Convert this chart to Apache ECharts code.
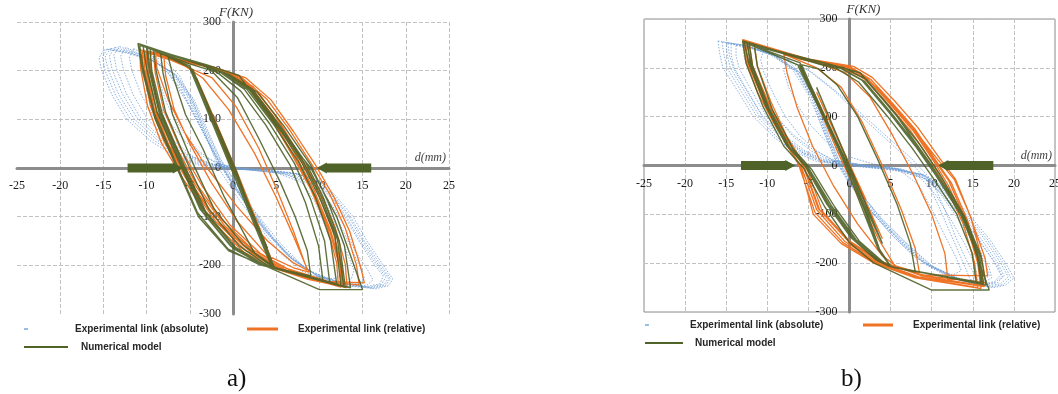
<!DOCTYPE html>
<html>
<head>
<meta charset="utf-8">
<script src="https://cdn.jsdelivr.net/npm/echarts@6/dist/echarts.min.js"></script>
<style>
  html, body { margin: 0; padding: 0; background: #fff; }
  #chart { width: 1058px; height: 394px; }
</style>
</head>
<body>
<div id="chart"></div>
<script>
// Axis ticks: displacement d (mm) and force F (kN)
const dTicks = [-25, -20, -15, -10, -5, 0, 5, 10, 15, 20, 25];
const fTicks = [-300, -200, -100, 0, 100, 200, 300];
const seriesNames = ['Experimental link (absolute)', 'Experimental link (relative)', 'Numerical model'];
const captions = ['a)', 'b)'];

// ---- Panel a: hysteresis paths [d, F]; null separates recorded loops ----
const absA = [
  [-15, 242], [-15.5, 226], [-15.2, 200], [-14, 150], [-12.3, 100], [-9.5, 55], [-6.5, 22], [-4, 6], [0, -2], [4, -6], [8, -14], [10.5, -30], [12.5, -70], [13.9, -100], [15.5, -150], [17.4, -200], [18.5, -228], [18, -242], [16.5, -248], [13, -242], [10, -225], [7, -190], [4.5, -140], [2.5, -90], [0.5, -35], [-1.5, 20], [-3, 80], [-4.5, 140], [-6.5, 190], [-9, 218], [-12, 235], [-14.5, 244], [-15, 242],
  null,
  [-14.6, 244], [-15.1, 228], [-14.8, 200], [-13.6, 150], [-11.9, 101], [-9.1, 56], [-6.2, 23], [-3.8, 7], [0, -1], [4, -5], [7.8, -13], [10.2, -29], [12.2, -69], [13.6, -100], [15.2, -150], [17.1, -199], [18.2, -227], [17.7, -241], [16.2, -247], [12.8, -240], [9.8, -222], [6.8, -187], [4.3, -137], [2.2, -87], [0.3, -32], [-1.6, 22], [-3.2, 82], [-4.7, 142], [-6.7, 192], [-9.1, 219], [-12.1, 237], [-14.6, 244],
  null,
  [-14.2, 246], [-14.8, 228], [-14.4, 200], [-13.2, 150], [-11.5, 102], [-8.8, 58], [-6, 25], [-3.5, 8], [0, 0], [4, -5], [7.5, -12], [10, -28], [12, -68], [13.4, -100], [15, -150], [16.8, -198], [18, -226], [17.5, -240], [16, -246], [12.6, -238], [9.6, -220], [6.6, -184], [4, -134], [2, -84], [0, -30], [-1.8, 24], [-3.4, 84], [-4.9, 144], [-6.8, 194], [-9.3, 221], [-12.2, 238], [-14.2, 246],
  null,
  [-13.7, 248], [-14.3, 230], [-14, 203], [-12.8, 152], [-11.1, 103], [-8.5, 59], [-5.7, 26], [-3.2, 9], [0, 1], [3.7, -4], [7.2, -11], [9.7, -27], [11.7, -66], [13.1, -99], [14.7, -149], [16.5, -196], [17.7, -224], [17.2, -239], [15.7, -245], [12.4, -236], [9.4, -217], [6.4, -181], [3.8, -131], [1.7, -80], [-0.2, -27], [-2, 26], [-3.6, 86], [-5.1, 146], [-6.9, 195], [-9.4, 222], [-12.1, 240], [-13.7, 248],
  null,
  [-13.2, 250], [-13.8, 232], [-13.5, 205], [-12.4, 155], [-10.8, 105], [-8.2, 60], [-5.5, 28], [-3, 10], [0, 2], [3.5, -4], [7, -10], [9.5, -26], [11.5, -64], [12.9, -98], [14.5, -148], [16.2, -195], [17.4, -222], [17, -238], [15.4, -244], [12.2, -234], [9.2, -214], [6.2, -178], [3.6, -128], [1.5, -76], [-0.4, -24], [-2.2, 28], [-3.8, 88], [-5.3, 148], [-7.1, 196], [-9.6, 224], [-12, 242], [-13.2, 250],
  null,
  [-12.4, 248], [-13, 230], [-12.7, 203], [-11.6, 152], [-10, 103], [-7.6, 58], [-5, 25], [-2.6, 8], [0.5, -1], [4.2, -6], [7.8, -18], [9.9, -40], [11.6, -80], [12.9, -120], [14.1, -170], [15.6, -210], [16.2, -230], [15.5, -241], [14, -243], [11.4, -232], [8.6, -208], [5.8, -168], [3.3, -118], [1.1, -64], [-0.8, -12], [-2.6, 44], [-4.3, 104], [-6, 162], [-8, 205], [-10.3, 230], [-12.4, 248],
  null,
  [-11.5, 245], [-12, 228], [-11.7, 200], [-10.6, 150], [-9, 100], [-6.8, 55], [-4.5, 22], [-2, 6], [1, -3], [5, -9], [8.5, -25], [10.5, -62], [12, -100], [13.3, -150], [14.6, -200], [15.2, -225], [14.6, -237], [13, -240], [10.5, -230], [8, -200], [5.5, -155], [3, -100], [0.5, -45], [-1.5, 10], [-3.5, 75], [-5.5, 140], [-7.5, 195], [-9.5, 228], [-11.5, 245],
  null,
  [-10, 240], [-10.5, 222], [-10.1, 195], [-9, 145], [-7.5, 98], [-5.5, 54], [-3.3, 22], [-1, 6], [2, -4], [6, -12], [9, -34], [10.8, -75], [12, -120], [13.1, -170], [14, -210], [13.7, -228], [12.2, -233], [9.8, -222], [7.3, -192], [4.8, -148], [2.4, -95], [0.1, -40], [-1.9, 18], [-3.8, 85], [-5.7, 150], [-7.6, 202], [-10, 240],
  null,
  [-8.5, 232], [-9, 210], [-8.6, 180], [-7.6, 130], [-6, 80], [-4, 35], [-2, 10], [1, -2], [5, -10], [8, -30], [9.5, -70], [10.7, -120], [11.8, -170], [12.6, -210], [12.2, -226], [10.5, -228], [8, -212], [5.5, -175], [3, -120], [0.5, -60], [-1.5, -5], [-3, 60], [-4.5, 130], [-6.2, 190], [-8.5, 232]
];
const relA = [
  [0, 0], [-1.5, 60], [1.5, -55], [-3, 125], [3, -120], [-4.2, 185], [-2, 95], [0.5, -10], [3, -120], [4.5, -190],
  [3, -130], [0.5, -20], [-2, 90], [-4, 175], [-5, 205], [-8, 228],
  [-7.8, 190], [-6.8, 120], [-5, 50], [-2.5, -30], [0.5, -110], [4, -180], [7, -205], [8.8, -214], [8.5, -204], [7, -140], [5, -60], [2.5, 30], [-0.5, 120], [-3.5, 185], [-6, 215], [-10.5, 240],
  [-10.4, 205], [-9.6, 130], [-8, 55], [-5.5, -20], [-2, -110], [1.5, -170], [5, -205], [9, -228], [12.5, -245],
  [12.4, -205], [11.2, -130], [9.3, -50], [7, 25], [4.5, 105], [2, 165], [-1, 200], [-4, 215], [-10.3, 238],
  [-10.2, 200], [-9.2, 120], [-7.5, 45], [-4.8, -35], [-1.5, -115], [2, -172], [5.5, -207], [9.5, -230], [12.8, -244],
  [12.6, -200], [11.5, -125], [9.6, -40], [7.4, 30], [4.8, 110], [2.3, 168], [-0.7, 198], [-4.2, 214], [-10, 236],
  [-9.8, 195], [-8.8, 115], [-7, 40], [-4.2, -40], [-1, -118], [2.6, -175], [6, -209], [10, -232], [15.2, -236],
  [14.8, -205], [13.5, -130], [11.7, -60], [9.6, 5], [7, 75], [4.4, 140], [1.5, 185], [-2, 206], [-6, 220], [-9, 238],
  [-8.8, 205], [-7.5, 140], [-5.5, 70], [-3, 0], [0.5, -80], [4, -150], [7, -195], [8.6, -210], [8.3, -195],
  [7, -130], [5.2, -50], [3, 40], [0.4, 125], [-2.4, 185], [-5, 205], [-9.6, 240],
  [-9.5, 200], [-8.6, 125], [-6.8, 50], [-4.4, -28], [-1.2, -108], [2.3, -168], [5.8, -204], [9.8, -226], [12.2, -240],
  [12, -195], [10.9, -122], [9, -44], [6.8, 28], [4.2, 108], [1.7, 166], [-1.3, 199], [-4.6, 216], [-10.8, 243],
  [-10.7, 205], [-9.9, 128], [-8.3, 52], [-5.8, -22], [-2.3, -112], [1.2, -172], [4.7, -206], [8.7, -229], [13.2, -246],
  [13, -198], [11.8, -120], [9.9, -42], [7.7, 26], [5.1, 104], [2.6, 162], [-0.4, 197], [-3.8, 213], [-9.2, 234],
  [-9, 195], [-8, 118], [-6.2, 44], [-3.6, -36], [-0.4, -116], [3.2, -176], [6.6, -210], [10.6, -234], [14.6, -240],
  [14.3, -200], [13, -124], [11.2, -54], [9.1, 8], [6.5, 80], [3.9, 142], [1, 186], [-2.5, 207], [-5.5, 216], [-10.1, 238],
  [-10, 198], [-9.1, 122], [-7.4, 47], [-4.9, -30], [-1.6, -112], [1.9, -170], [5.3, -206], [9.3, -229], [12.6, -243],
  [12.5, -202], [11.3, -128], [9.4, -46], [7.2, 28], [4.6, 108], [2.1, 166], [-0.9, 199], [-4.1, 215]
];
const numA = [
  [0, 0], [-2, 84], [2, -84], [-4, 165], [4, -165],
  [-5, 205], [-2.5, 100], [0, 0], [2.5, -105], [4.8, -205],
  [2.5, -102], [0, 2], [-2.5, 104], [-5, 206],
  [-7.5, 228], [-6.8, 180], [-5.5, 110], [-3.5, 40], [-1, -60], [2.5, -175], [5, -206], [9, -222],
  [8.6, -170], [7.2, -100], [5.5, -30], [3, 60], [0.5, 145], [-2.5, 200], [-5, 214], [-10, 248],
  [-9.7, 200], [-8.5, 110], [-6, 10], [-3.5, -90], [0, -165], [3.5, -200], [5, -207], [12.5, -242],
  [11.8, -140], [10, -60], [8, 10], [5, 90], [2, 160], [-1, 195], [-2.7, 207], [-10.4, 250],
  [-10, 205], [-8.8, 115], [-6.3, 15], [-3.8, -85], [-0.3, -160], [3.3, -198], [4.9, -205], [12, -238],
  [11.3, -150], [9.6, -62], [7.6, 12], [4.6, 92], [1.6, 162], [-1.3, 196], [-2.9, 208], [-9.6, 246],
  [-9.4, 200], [-8.2, 112], [-5.8, 12], [-3.2, -88], [0.3, -163], [3.8, -201], [5.2, -208], [13, -245],
  [12.3, -150], [10.4, -58], [8.4, 12], [5.4, 88], [2.4, 158], [-0.7, 193], [-2.6, 206], [-9.2, 244],
  [-8.9, 200], [-7.8, 115], [-5.4, 15], [-2.8, -85], [0.7, -160], [4, -200], [5.3, -208], [11.2, -236],
  [10.6, -150], [9, -65], [7.1, 10], [4.2, 92], [1.3, 162], [-1.5, 197], [-3.1, 209], [-10.8, 252],
  [-10.4, 205], [-9.1, 112], [-6.6, 10], [-4.1, -92], [-0.6, -166], [3.1, -199], [4.8, -206], [13.6, -246],
  [12.9, -160], [11, -70], [9, 6], [5.9, 86], [2.8, 156], [-0.4, 192], [-2.4, 205], [-8.4, 238],
  [-8.1, 195], [-7, 110], [-4.7, 12], [-2.2, -84], [1.2, -158], [4.4, -201], [5.6, -209], [10.4, -230],
  [9.9, -160], [8.4, -72], [6.6, 6], [3.8, 88], [0.9, 158], [-1.8, 196], [-3.4, 210], [-9.9, 247],
  [-9.6, 202], [-8.4, 113], [-5.9, 13], [-3.4, -87], [0.1, -162], [3.6, -199], [5.1, -207], [12.8, -243],
  [12.1, -148], [10.2, -59], [8.2, 11], [5.2, 89], [2.2, 159], [-0.9, 194], [-2.8, 207], [-11, 256],
  [-10.5, 200], [-9, 100], [-6.5, 0], [-4, -100], [-0.5, -170], [4, -203], [10, -250], [15, -250],
  [14, -200], [12, -100], [9, 0], [4.4, 100], [0.7, 190], [-3, 212], [-10, 248],
  [-5, 210], [0, 3], [4.7, -205], [0, -3], [-5, 205], [-0.3, 2], [4.5, -204], [0.3, -2], [-4.7, 204]
];

// ---- Panel b: hysteresis paths [d, F] ----
const absB = [
  [-16, 255], [-15.8, 230], [-15.4, 200], [-13.5, 150], [-11.7, 100], [-9, 55], [-6.4, 26], [-4, 8], [0, 0], [5, -8], [9, -18], [12, -50], [14.5, -100], [17, -150], [19, -200], [20, -230], [19, -245], [17.5, -250], [14, -238], [10, -205], [7, -160], [4, -110], [1, -50], [-1, 0], [-2.5, 60], [-4, 130], [-6, 190], [-9, 225], [-12.5, 245], [-16, 255],
  null,
  [-15.5, 253], [-15.3, 229], [-14.9, 200], [-13.1, 150], [-11.3, 101], [-8.7, 56], [-6.1, 27], [-3.7, 9], [0.3, 0], [5.2, -8], [9, -19], [11.8, -50], [14.2, -100], [16.7, -150], [18.7, -200], [19.6, -229], [18.7, -244], [17.1, -249], [13.7, -236], [9.8, -204], [6.8, -158], [3.8, -108], [0.8, -48], [-1.1, 2], [-2.6, 62], [-4.1, 132], [-6.1, 191], [-9.1, 226], [-12.3, 245], [-15.5, 253],
  null,
  [-15, 252], [-14.9, 228], [-14.5, 200], [-12.7, 150], [-11, 102], [-8.4, 58], [-5.9, 28], [-3.5, 10], [0.5, 0], [5.5, -8], [9, -20], [11.6, -50], [14, -100], [16.4, -150], [18.4, -200], [19.3, -228], [18.4, -242], [16.8, -247], [13.4, -235], [9.5, -202], [6.5, -156], [3.5, -106], [0.6, -46], [-1.3, 4], [-2.8, 64], [-4.3, 134], [-6.3, 192], [-9.2, 226], [-12.2, 244], [-15, 252],
  null,
  [-14.8, 250], [-14.6, 225], [-14.1, 198], [-12.4, 150], [-10.6, 100], [-8, 55], [-5.5, 25], [-3, 8], [1, -2], [5.5, -10], [9, -25], [11.5, -60], [13.8, -110], [16, -160], [18, -205], [18.6, -228], [17.6, -240], [16, -244], [14.4, -200], [13, -150], [11.6, -90], [10, -30], [7.5, 15], [4.5, 60], [1.5, 105], [-1.5, 150], [-4.5, 190], [-8, 220], [-11.5, 240], [-14.8, 250],
  null,
  [-14.4, 249], [-14.4, 227], [-14, 199], [-12.3, 150], [-10.6, 102], [-8.1, 59], [-5.6, 29], [-3.2, 11], [0.8, 1], [5.8, -7], [9, -20], [11.4, -51], [13.7, -100], [16, -150], [18, -199], [18.8, -226], [18, -240], [16.4, -245], [13.1, -233], [9.2, -200], [6.2, -154], [3.2, -104], [0.4, -44], [-1.4, 6], [-2.9, 66], [-4.4, 136], [-6.4, 192], [-9.2, 225], [-12, 242], [-14.4, 249],
  null,
  [-13.8, 246], [-13.8, 225], [-13.4, 198], [-11.8, 150], [-10.2, 103], [-7.8, 60], [-5.4, 30], [-3, 12], [1, 2], [6, -6], [9, -20], [11.2, -52], [13.4, -100], [15.7, -150], [17.6, -198], [18.4, -224], [17.6, -238], [16, -243], [12.8, -232], [9, -198], [6, -152], [3, -102], [0.2, -42], [-1.6, 8], [-3.1, 68], [-4.6, 138], [-6.5, 193], [-9.2, 224], [-11.8, 240], [-13.8, 246],
  null,
  [-13, 244], [-12.8, 222], [-12.3, 196], [-10.8, 150], [-9.2, 104], [-6.8, 62], [-4.4, 32], [-2, 12], [2, 0], [6.5, -9], [9.6, -30], [11.8, -70], [13.8, -118], [15.6, -165], [17, -210], [17.3, -230], [16.3, -240], [14.8, -238], [13.6, -190], [12.3, -140], [10.9, -85], [9.3, -28], [6.8, 18], [3.8, 64], [0.8, 110], [-2, 155], [-5, 195], [-8.5, 224], [-13, 244],
  null,
  [-12.2, 242], [-12.4, 222], [-12, 195], [-10.6, 148], [-9, 102], [-6.9, 60], [-4.7, 30], [-2.5, 12], [1.5, 1], [6, -7], [8.8, -22], [11, -56], [13, -105], [15, -155], [16.6, -203], [17, -226], [16.1, -236], [14.3, -236], [11.3, -220], [8, -188], [5.3, -145], [2.7, -95], [0, -38], [-1.8, 14], [-3.3, 76], [-4.9, 142], [-6.9, 196], [-9.5, 226], [-12.2, 242],
  null,
  [-10.5, 235], [-10.8, 215], [-10.4, 190], [-9.2, 145], [-7.8, 100], [-6, 60], [-4, 30], [-2, 10], [2, 0], [6, -8], [8.6, -25], [10.5, -60], [12.3, -110], [14, -160], [15.3, -205], [15.5, -228], [14.5, -236], [12, -228], [9, -200], [6.4, -160], [3.8, -110], [1.4, -55], [-0.5, -5], [-2, 50], [-3.5, 115], [-5.2, 175], [-7.5, 215], [-10.5, 235],
  null,
  [-7.5, 218], [-8, 195], [-7.4, 160], [-6.2, 120], [-4.6, 80], [-2.6, 45], [-0.5, 20], [2.5, 5], [6, -8], [8.4, -40], [10, -90], [11.5, -140], [13, -190], [13.6, -215], [12.6, -224], [10, -210], [7.5, -180], [5, -140], [2.5, -90], [0.5, -40], [-1.2, 20], [-2.8, 90], [-4.3, 150], [-5.8, 195], [-7.5, 218]
];
const relB = [
  [0, 0], [-2, 75], [2, -70], [-4, 150], [4, -150], [-6, 205], [-4, 130], [-1.5, 30], [1, -60], [3.5, -150], [5.5, -205], [8.5, -220],
  [8, -170], [6.3, -90], [4, 0], [1.5, 90], [-1, 160], [-4, 200], [-8, 228],
  [-7.6, 190], [-6.4, 120], [-4.5, 40], [-2, -40], [1, -120], [4, -185], [6, -210], [12, -238],
  [11.6, -180], [10, -100], [7.8, -20], [5.3, 60], [2.5, 140], [-0.5, 190], [-5, 216], [-13, 258],
  [-12.6, 215], [-11.2, 150], [-9, 80], [-6, 0], [-4.4, -100], [-1, -160], [3, -200], [8, -230], [16, -252],
  [15.6, -200], [14.2, -120], [12, -40], [10.2, 10], [7.8, 70], [5, 125], [2.3, 175], [0, 200], [-5, 218], [-12.7, 256],
  [-12.3, 210], [-10.5, 140], [-8.6, 70], [-5.8, -5], [-4, -90], [-0.6, -155], [3.4, -198], [8.4, -228], [16.4, -248],
  [15.8, -196], [14.4, -114], [12.4, -36], [10.6, 8], [8, 74], [5.2, 128], [2.6, 176], [0.2, 201], [-4.8, 216], [-12.2, 252],
  [-11.8, 205], [-10, 135], [-8, 65], [-5.4, -8], [-3.6, -92], [0, -158], [4, -201], [9, -224], [16.8, -226],
  [16.5, -190], [14.6, -100], [12.8, -30], [10.6, 15], [8.5, 60], [6.5, 100], [4.5, 140], [2.3, 175], [-1, 200], [-6, 218], [-12.8, 257],
  [-12.4, 212], [-10.8, 145], [-8.8, 75], [-6.2, 2], [-4.2, -96], [-0.8, -158], [3.2, -199], [8.2, -229], [15.6, -250],
  [15.2, -198], [13.8, -118], [11.6, -38], [9.8, 12], [7.4, 72], [4.6, 127], [1.9, 176], [-0.4, 200], [-5.4, 219], [-12.5, 255],
  [-12, 208], [-10.2, 138], [-8.2, 68], [-5.6, -2], [-3.8, -88], [-0.2, -152], [3.8, -196], [8.8, -226], [16.2, -246],
  [15.6, -194], [14.1, -110], [12.1, -32], [10.3, 12], [7.7, 76], [4.9, 130], [2.2, 178], [-0.2, 202], [-5.2, 218], [-11.6, 250],
  [-11.2, 204], [-9.6, 132], [-7.7, 62], [-5.1, -10], [-3.3, -94], [0.3, -160], [4.3, -202], [9.3, -226], [16.6, -240],
  [16.1, -192], [14.8, -108], [12.9, -28], [11, 14], [8.3, 78], [5.5, 132], [2.8, 180], [0.5, 203], [-4.5, 217]
];
const numB = [
  [0, 0], [-2, 80], [2, -80], [-4, 160], [4, -160],
  [-6, 202], [-3, 100], [-0.3, 5], [2, -90], [3.7, -174], [5, -207], [8, -218],
  [7.4, -160], [5.8, -80], [3.5, 10], [1, 100], [-1.5, 165], [-3.8, 198], [-6, 207],
  [-6.2, 202], [-3.2, 100], [-0.5, 8], [1.8, -90], [3.6, -172], [5, -206],
  [3.6, -170], [1.8, -88], [-0.4, 8], [-3, 100], [-6, 204], [-12.5, 250],
  [-12, 210], [-10, 120], [-7.5, 40], [-5.2, -3], [-2.5, -80], [0.5, -150], [3.5, -195], [5, -207], [16, -240],
  [15.5, -180], [13.5, -100], [10.5, -20], [8, 40], [5, 105], [1.5, 175], [-1.2, 200], [-3.3, 207], [-12.2, 248],
  [-11.8, 205], [-9.8, 118], [-7.3, 38], [-5, -5], [-2.2, -82], [0.8, -152], [3.8, -197], [5.2, -208], [16.3, -242],
  [15.8, -182], [13.8, -102], [10.8, -22], [8.3, 38], [5.3, 103], [1.8, 173], [-1, 199], [-3.1, 206], [-12.8, 252],
  [-12.3, 212], [-10.2, 122], [-7.7, 42], [-5.4, -1], [-2.8, -78], [0.2, -148], [3.2, -193], [4.8, -206], [16.6, -245],
  [16, -185], [14, -104], [11, -18], [8.5, 44], [5.5, 108], [2, 177], [-0.8, 201], [-3.5, 208], [-11.6, 246],
  [-11.2, 202], [-9.4, 115], [-6.9, 35], [-4.6, -8], [-1.8, -85], [1.2, -155], [4.2, -199], [5.4, -209], [15.4, -238],
  [14.9, -178], [13, -98], [10.1, -24], [7.6, 36], [4.6, 101], [1.1, 171], [-1.5, 198], [-3.6, 207], [-12.4, 250],
  [-12.1, 208], [-10, 120], [-7.5, 40], [-5.3, -2], [-2.6, -79], [0.4, -150], [3.4, -194], [5, -207], [16.1, -241],
  [15.6, -181], [13.6, -101], [10.6, -21], [8.1, 39], [5.1, 104], [1.6, 174], [-1.1, 200], [-3.2, 207], [-13, 255],
  [-12.6, 210], [-10.5, 120], [-8, 40], [-5.6, -5], [-3, -85], [0, -158], [3, -200], [10, -255], [17, -255],
  [15.8, -200], [13.8, -100], [10, 0], [5.8, 100], [1.3, 190], [-3, 210], [-12.5, 250],
  [-6, 210], [-0.3, 5], [3.7, -174], [5, -207], [3.5, -172], [-0.6, 4], [-5.8, 206]
];

// Loading-direction arrows on the d axis: [from, to]
const arrowsA = [[-12.2, -5.8], [16, 9.7]];
const arrowsB = [[-13.2, -6.6], [17.5, 10.8]];

const BLUE = '#6f9ed6', ORANGE = '#ee7325', GREEN = '#4f6228', AXIS = '#8c8c8c';

function xAxisOf(idx) {
  return {
    gridIndex: idx, type: 'value',
    min: dTicks[0], max: dTicks[dTicks.length - 1], interval: dTicks[1] - dTicks[0],
    axisLine: { onZero: false, lineStyle: { color: AXIS, width: 3 } },
    axisTick: { show: false },
    axisLabel: { color: '#1a1a1a', fontFamily: 'Liberation Serif', fontSize: 12, margin: 12 },
    splitLine: { show: true, showMinLine: idx === 1, lineStyle: { type: 'dashed', color: '#c2c2c2', width: 1 } },
    name: 'd(mm)', nameLocation: 'end', nameGap: 0, nameMoveOverlap: false,
    nameTextStyle: { fontFamily: 'Liberation Serif', fontStyle: 'italic', fontSize: 12, color: '#444',
      align: 'right', verticalAlign: 'bottom', padding: [0, 3, 4, 0] }
  };
}
function yAxisOf(idx) {
  return {
    gridIndex: idx, type: 'value',
    min: fTicks[0], max: fTicks[fTicks.length - 1], interval: fTicks[1] - fTicks[0],
    axisLine: { onZero: false, lineStyle: { color: AXIS, width: 3 } },
    axisTick: { show: false },
    axisLabel: { color: '#1a1a1a', fontFamily: 'Liberation Serif', fontSize: 12, margin: 12 },
    splitLine: { show: true, showMinLine: idx === 1, lineStyle: { type: 'dashed', color: '#c2c2c2', width: 1 } },
    name: 'F(KN)', nameLocation: 'end', nameGap: 9, nameMoveOverlap: false,
    nameTextStyle: idx === 0
      ? { fontFamily: 'Liberation Serif', fontStyle: 'italic', fontSize: 13, color: '#333', verticalAlign: 'middle', padding: [0, 0, 0, 6] }
      : { fontFamily: 'Liberation Serif', fontStyle: 'italic', fontSize: 13, color: '#333', verticalAlign: 'middle', align: 'left', padding: [0, 0, 0, -3] }
  };
}
function loop(name, data, idx, color, lineStyle) {
  return {
    type: 'line', name, data, xAxisIndex: idx, yAxisIndex: idx,
    showSymbol: false, symbol: 'none', silent: true, connectNulls: false,
    color, itemStyle: { color },
    lineStyle: Object.assign({ color, width: 1.3 }, lineStyle || {})
  };
}
function arrowItem(params, api) {
  const a = api.coord([api.value(0), 0]);
  const b = api.coord([api.value(1), 0]);
  const dir = b[0] > a[0] ? 1 : -1;
  const h = 4.5, H = 5.5, L = 10;
  const nx = b[0] - dir * L, y = a[1];
  return {
    type: 'polygon',
    shape: { points: [[a[0], y - h], [nx, y - h], [nx, y - H], [b[0], y], [nx, y + H], [nx, y + h], [a[0], y + h]] },
    style: { fill: GREEN }
  };
}
function arrows(data, idx) {
  return { type: 'custom', data, xAxisIndex: idx, yAxisIndex: idx, renderItem: arrowItem, silent: true, z: 10, clip: false };
}
function legendOf(name, left, top, w, h, gap, color) {
  return {
    data: [name], left, top, padding: 0, itemWidth: w, itemHeight: h, icon: 'rect', selectedMode: false,
    itemStyle: { color }, lineStyle: { color, width: 0 },
    textStyle: { fontFamily: 'Liberation Sans', fontWeight: 'bold', fontSize: 10, color: '#262626',
      rich: { s: { width: gap } } },
    formatter: n => '{s| }' + n
  };
}

const blueStyle = { width: 1, type: [1.5, 1.5], opacity: 0.8 };
const greenStyle = { width: 1.4, opacity: 0.9 };
const chart = echarts.init(document.getElementById('chart'), null, { renderer: 'canvas' });
chart.setOption({
  animation: false,
  backgroundColor: '#fff',
  grid: [
    { left: 17, top: 22, width: 432, height: 292, show: false, outerBoundsMode: 'none' },
    { left: 644, top: 19, width: 411, height: 293, show: true, outerBoundsMode: 'none',
      borderColor: AXIS, borderWidth: 1, backgroundColor: 'transparent' }
  ],
  xAxis: [xAxisOf(0), xAxisOf(1)],
  yAxis: [yAxisOf(0), yAxisOf(1)],
  title: [
    { text: captions[0], left: 222, top: 362, textStyle: { fontFamily: 'Liberation Serif', fontWeight: 'normal', fontSize: 25, color: '#111' } },
    { text: captions[1], left: 836, top: 362, textStyle: { fontFamily: 'Liberation Serif', fontWeight: 'normal', fontSize: 25, color: '#111' } }
  ],
  legend: [
    legendOf(seriesNames[0], 24, 324, 4, 2, 42, '#9dbde3'),
    legendOf(seriesNames[1], 247, 324, 31, 3, 15, ORANGE),
    legendOf(seriesNames[2], 24, 342, 44, 2, 8, GREEN),
    legendOf(seriesNames[0], 645, 320, 4, 2, 36, '#9dbde3'),
    legendOf(seriesNames[1], 863, 320, 30, 3, 15, ORANGE),
    legendOf(seriesNames[2], 645, 338, 38, 2, 7, GREEN)
  ],
  series: [
    loop(seriesNames[0], absA, 0, BLUE, blueStyle),
    loop(seriesNames[1], relA, 0, ORANGE),
    loop(seriesNames[2], numA, 0, GREEN, greenStyle),
    arrows(arrowsA, 0),
    loop(seriesNames[0], absB, 1, BLUE, blueStyle),
    loop(seriesNames[1], relB, 1, ORANGE),
    loop(seriesNames[2], numB, 1, GREEN, greenStyle),
    arrows(arrowsB, 1)
  ]
});

// Both axes cross at the origin: shift each axis (line and labels) onto the zero of the other one
const offsets = [0, 1].map(i => {
  const left = chart.convertToPixel({ xAxisIndex: i }, dTicks[0]);
  const zeroX = chart.convertToPixel({ xAxisIndex: i }, 0);
  const bottom = chart.convertToPixel({ yAxisIndex: i }, fTicks[0]);
  const zeroY = chart.convertToPixel({ yAxisIndex: i }, 0);
  return { x: zeroY - bottom, y: left - zeroX };
});
chart.setOption({
  xAxis: offsets.map(o => ({ offset: o.x })),
  yAxis: offsets.map(o => ({ offset: o.y }))
});
</script>
</body>
</html>
